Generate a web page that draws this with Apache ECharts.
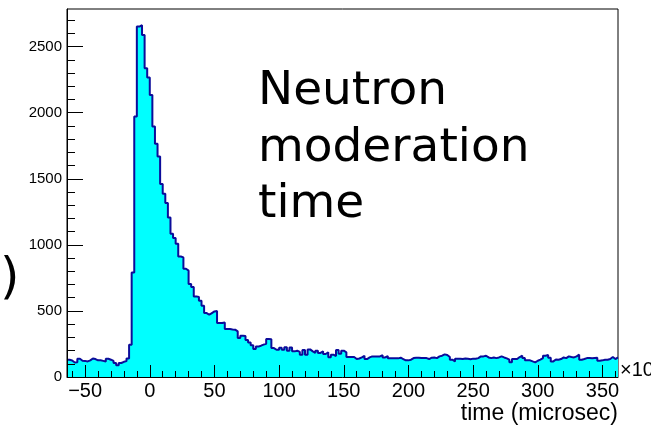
<!DOCTYPE html>
<html><head><meta charset="utf-8">
<script src="https://cdn.jsdelivr.net/npm/echarts@6/dist/echarts.min.js"></script>
<style>html,body{margin:0;padding:0;background:#fff}#c{width:651px;height:427px}</style>
</head><body><div id="c"></div>
<script>
// ---- data ----
const binStart = -64;
const binWidth = 2;
const counts = [
  131,125,110,112,138,123,122,118,126,140,136,126,126,122,118,138,131,122,106,88,106,115,120,140,
  244,791,1971,2652,2662,2589,2337,2266,2135,1896,1765,1669,
  1460,1387,1316,1207,1084,1051,1008,912,905,819,805,703,681,610,605,577,539,484,471,484,496,500,408,
  408,413,363,363,360,358,345,295,312,310,
  280,262,240,212,230,237,245,252,287,285,
  219,206,206,222,206,226,199,224,194,199,
  190,169,204,169,209,194,182,199,182,194,
  174,187,149,169,158,204,176,199,187,151,
  151,151,136,140,148,161,136,148,156,156,
  156,156,165,148,158,141,141,141,141,146,
  136,126,126,131,143,146,146,
  143,143,143,136,146,148,143,156,161,171,
  166,151,131,118,138,138,136,140,138,135,
  139,138,143,156,156,161,148,143,148,143,
  148,156,148,141,131,111,136,136,151,161,
  143,126,126,118,111,123,131,143,161,166,
  146,118,133,131,136,148,143,156,151,148,
  156,169,131,136,143,143,141,143,145,123,
  126,131,131,136,151,136,148
];
const xRange = [-64, 362];
const yRange = [0, 2785];
const xMajorTicks = [-50, 0, 50, 100, 150, 200, 250, 300, 350];
const xMinorTicks = [-60,-40,-30,-20,-10,10,20,30,40,60,70,80,90,110,120,130,140,160,170,180,190,
  210,220,230,240,260,270,280,290,310,320,330,340,360];
const yMajorTicks = [0, 500, 1000, 1500, 2000, 2500];
const yMinorTicks = [100,200,300,400,600,700,800,900,1100,1200,1300,1400,1600,1700,1800,1900,
  2100,2200,2300,2400,2600,2700];
const annotationLines = ['Neutron', 'moderation', 'time'];
const xTitle = 'time (microsec)';
const xExponent = '\u00d710';
const leftCut = ')';

// ---- build histogram outline points (bin left edges + closing edge) ----
const points = counts.map((c, i) => [binStart + i * binWidth, c]);
points.push([binStart + counts.length * binWidth, counts[counts.length - 1]]);

const fmtX = v => (v < 0 ? '\u2212' + Math.abs(v) : String(v));
const fmtY = v => String(v);
const labelFont = 'Liberation Sans';

const chart = echarts.init(document.getElementById('c'), null, {renderer: 'canvas'});
chart.setOption({
  animation: false,
  backgroundColor: '#fff',
  grid: {left: 67, right: 33, top: 9, bottom: 50, show: true, borderColor: '#000', borderWidth: 1,
    backgroundColor: 'transparent', containLabel: false},
  xAxis: [
    {type: 'value', min: xRange[0], max: xRange[1], position: 'bottom', z: 5,
      axisLine: {show: true, onZero: false, lineStyle: {color: '#000', width: 1}},
      axisTick: {show: true, inside: true, length: 12, customValues: xMajorTicks, lineStyle: {color: '#000'}},
      axisLabel: {show: true, customValues: xMajorTicks, formatter: fmtX, fontSize: 20, fontFamily: labelFont,
        color: '#000', margin: 4},
      splitLine: {show: false}},
    {type: 'value', min: xRange[0], max: xRange[1], position: 'bottom', z: 5,
      axisLine: {show: false, onZero: false},
      axisTick: {show: true, inside: true, length: 6, customValues: xMinorTicks, lineStyle: {color: '#000'}},
      axisLabel: {show: false}, splitLine: {show: false}}
  ],
  yAxis: [
    {type: 'value', min: yRange[0], max: yRange[1], position: 'left', z: 5,
      axisLine: {show: true, onZero: false, lineStyle: {color: '#000', width: 1}},
      axisTick: {show: true, inside: true, length: 16, customValues: yMajorTicks, lineStyle: {color: '#000'}},
      axisLabel: {show: true, customValues: yMajorTicks, formatter: fmtY, fontSize: 15, fontFamily: labelFont, color: '#000', margin: 5},
      splitLine: {show: false}},
    {type: 'value', min: yRange[0], max: yRange[1], position: 'left', z: 5,
      axisLine: {show: false, onZero: false},
      axisTick: {show: true, inside: true, length: 8, customValues: yMinorTicks, lineStyle: {color: '#000'}},
      axisLabel: {show: false}, splitLine: {show: false}}
  ],
  series: [{
    type: 'line', xAxisIndex: 0, yAxisIndex: 0, data: points, step: 'end',
    symbol: 'none', showSymbol: false, clip: true,
    lineStyle: {color: '#0c0c9a', width: 2},
    areaStyle: {color: '#00ffff', opacity: 1, origin: 'start'}
  }],
  graphic: [
    {type: 'text', x: 258, y: 92, style: {text: annotationLines[0], font: '47px "DejaVu Sans"', fill: '#000', align: 'left', verticalAlign: 'middle'}},
    {type: 'text', x: 258, y: 149, style: {text: annotationLines[1], font: '47px "DejaVu Sans"', fill: '#000', align: 'left', verticalAlign: 'middle'}},
    {type: 'text', x: 258, y: 205, style: {text: annotationLines[2], font: '47px "DejaVu Sans"', fill: '#000', align: 'left', verticalAlign: 'middle'}},
    {type: 'text', x: 618, y: 414, style: {text: xTitle, font: '23px "Liberation Sans"', fill: '#000', align: 'right', verticalAlign: 'middle'}},
    {type: 'text', x: 620, y: 370, style: {text: xExponent, font: '20px "Liberation Sans"', fill: '#000', align: 'left', verticalAlign: 'middle'}},
    {type: 'text', x: 0, y: 280, style: {text: leftCut, font: '50px "DejaVu Sans"', fill: '#000', align: 'left', verticalAlign: 'middle'}}
  ]
});
</script>
</body></html>
